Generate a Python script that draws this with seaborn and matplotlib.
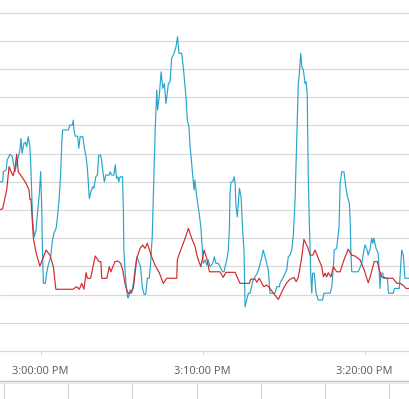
import numpy as np
import pandas as pd
import matplotlib
matplotlib.use('Agg')
import matplotlib.pyplot as plt
import matplotlib.dates as mdates
from matplotlib.lines import Line2D
import seaborn as sns

# seconds relative to 3:00:00 PM, values in chart units (one gridline = 10)
blue_secs = [-151, -141, -138, -128, -124, -114, -105, -101, -95, -89, -83, -77, -73, -69, -62, -56, -52, -46, -40,
             -36, -33, -30, -24, -17, -13, -5, 0, 4, 6, 10, 17, 22, 28, 37, 43, 49, 57, 61, 68, 74, 78, 81, 102, 108,
             117, 121, 123, 128, 137, 141, 146, 156, 161, 168, 173, 180, 186, 193, 197, 204, 210, 215, 222, 226, 232,
             236, 241, 254, 257, 263, 271, 276, 281, 286, 289, 294, 303, 306, 308, 313, 316, 322, 324, 331, 337, 343,
             349, 356, 361, 370, 376, 383, 389, 395, 402, 407, 413, 417, 421, 424, 430, 433, 439, 446, 452, 458, 464,
             473, 479, 485, 494, 501, 507, 512, 522, 528, 538, 543, 549, 553, 559, 565, 568, 571, 578, 586, 593, 599,
             602, 609, 615, 621, 627, 637, 643, 649, 658, 664, 674, 679, 683, 689, 695, 699, 701, 705, 711, 716, 720,
             723, 728, 732, 736, 742, 748, 753, 757, 763, 769, 775, 781, 787, 794, 802, 810, 819, 824, 831, 837, 843,
             849, 868, 874, 884, 886, 899, 911, 917, 923, 930, 936, 942, 948, 954, 958, 963, 967, 973, 979, 983, 987,
             991, 995, 1000, 1004, 1007, 1013, 1020, 1028, 1044, 1049, 1072, 1078, 1084, 1087, 1096, 1105, 1109, 1115,
             1123, 1130, 1136, 1143, 1146, 1149, 1152, 1176, 1189, 1195, 1201, 1207, 1213, 1220, 1226, 1230, 1234,
             1242, 1250, 1254, 1257, 1259, 1267, 1269, 1284, 1288, 1306, 1310, 1328, 1333, 1337, 1343, 1349, 1368]
blue_vals = [60.0, 60.0, 63.6, 64.2, 67.7, 69.8, 68.9, 66.6, 63.6, 66.6, 68.9, 71.3, 75.4, 70.1, 73.7, 74.0, 72.4,
             76.0, 72.4, 64.2, 55.9, 46.5, 40.5, 42.9, 47.6, 55.9, 63.6, 50.0, 37.6, 24.0, 24.0, 27.6, 30.5, 33.4,
             38.8, 41.7, 43.5, 46.5, 53.5, 63.0, 73.7, 78.4, 78.4, 80.1, 80.1, 81.9, 78.4, 76.2, 76.2, 71.9, 76.0,
             76.0, 72.4, 68.9, 64.8, 54.1, 56.5, 58.3, 57.7, 61.8, 62.4, 69.5, 69.5, 67.1, 62.4, 60.0, 62.4, 62.4,
             63.6, 62.4, 62.4, 66.0, 61.2, 61.8, 60.0, 61.8, 61.8, 51.2, 35.8, 27.6, 24.0, 19.1, 18.8, 21.6, 20.5,
             24.0, 28.7, 33.4, 32.3, 29.9, 22.8, 20.0, 20.2, 25.8, 25.8, 31.1, 40.5, 54.7, 68.9, 78.4, 92.6, 85.5,
             90.2, 99.0, 93.2, 94.9, 87.8, 94.9, 95.5, 103.8, 105.6, 107.9, 111.5, 105.6, 105.6, 100.8, 90.2, 81.9,
             79.5, 73.0, 66.6, 60.6, 57.1, 60.6, 54.7, 49.4, 44.1, 35.8, 31.1, 32.3, 30.5, 32.3, 29.9, 31.1, 33.4,
             31.1, 31.1, 29.9, 28.1, 28.1, 29.9, 32.3, 35.8, 44.1, 55.9, 60.0, 60.0, 61.8, 59.5, 51.8, 47.6, 52.4,
             57.7, 54.7, 42.9, 35.8, 15.7, 18.1, 20.5, 20.5, 22.8, 25.2, 26.3, 27.6, 29.9, 33.4, 35.8, 33.4, 31.1,
             28.7, 20.5, 20.5, 22.8, 22.8, 24.0, 26.3, 28.7, 33.4, 34.0, 35.8, 41.7, 53.5, 74.8, 94.9, 98.5, 105.6,
             100.8, 99.6, 94.9, 95.5, 91.4, 61.3, 45.3, 27.6, 20.5, 27.6, 27.6, 20.5, 18.1, 18.1, 20.5, 20.5, 22.8,
             29.9, 35.8, 36.4, 44.1, 59.5, 63.6, 63.6, 58.3, 54.7, 52.4, 46.5, 34.6, 28.1, 28.1, 31.1, 34.6, 37.6,
             36.4, 34.0, 36.4, 40.0, 38.2, 40.0, 36.4, 34.6, 27.6, 22.2, 27.6, 27.6, 25.8, 25.8, 20.5, 20.5, 22.2,
             22.2, 29.9, 35.8, 34.0, 25.8, 25.8]

red_secs = [-151, -141, -126, -117, -110, -102, -95, -89, -83, -70, -54, -43, -40, -36, -27, -17, -3, 20, 34, 47, 56,
            119, 133, 143, 152, 160, 168, 173, 185, 202, 216, 223, 226, 245, 254, 260, 275, 287, 296, 304, 312, 321,
            328, 343, 356, 368, 378, 386, 395, 411, 423, 439, 454, 467, 504, 506, 513, 535, 547, 559, 572, 580, 593,
            605, 615, 625, 664, 676, 686, 720, 738, 773, 778, 794, 800, 810, 819, 827, 837, 849, 862, 880, 899, 911,
            923, 938, 946, 954, 967, 975, 988, 998, 1008, 1016, 1028, 1041, 1047, 1053, 1059, 1065, 1075, 1084, 1096,
            1109, 1123, 1139, 1152, 1164, 1183, 1198, 1213, 1222, 1235, 1247, 1254, 1263, 1284, 1304, 1319, 1331,
            1341, 1353, 1368]
red_vals = [50.2, 50.4, 57.1, 65.4, 63.6, 62.2, 64.9, 69.8, 63.6, 61.8, 59.5, 57.1, 53.8, 53.8, 40.0, 34.8, 30.1,
            35.8, 34.0, 29.9, 21.9, 21.9, 22.8, 21.9, 24.0, 21.9, 27.8, 25.8, 25.8, 33.7, 31.7, 31.7, 25.8, 25.8,
            29.9, 28.1, 31.7, 31.9, 31.1, 28.7, 24.0, 21.0, 20.2, 22.2, 32.9, 36.4, 37.6, 36.4, 38.2, 33.4, 30.5,
            27.8, 24.0, 25.8, 25.8, 32.3, 34.4, 40.0, 43.5, 40.0, 37.0, 33.4, 29.9, 35.8, 32.9, 28.1, 28.1, 26.1,
            27.9, 27.9, 24.0, 24.0, 25.5, 25.5, 24.4, 25.8, 24.0, 22.8, 23.4, 22.2, 20.5, 18.3, 22.2, 24.2, 25.4,
            26.1, 24.6, 26.1, 33.4, 39.6, 37.0, 34.0, 34.0, 35.8, 32.9, 29.9, 26.3, 27.6, 26.3, 27.8, 26.3, 29.9,
            28.1, 28.1, 32.3, 36.1, 34.0, 33.7, 32.3, 28.7, 24.2, 26.9, 31.7, 31.7, 28.7, 26.3, 25.8, 25.8, 24.0,
            24.0, 23.4, 22.2, 22.2]

start = pd.Timestamp('2020-01-01 15:00:00')
df = pd.concat([
    pd.DataFrame({'time': start + pd.to_timedelta(blue_secs, unit='s'), 'value': blue_vals, 'series': 'A'}),
    pd.DataFrame({'time': start + pd.to_timedelta(red_secs, unit='s'), 'value': red_vals, 'series': 'B'}),
])

sns.set_style('white')
plt.rcParams['font.family'] = ['Open Sans', 'DejaVu Sans']

fig = plt.figure(figsize=(4.09, 3.99), dpi=100, facecolor='white')
ax = fig.add_axes([0, 1 - 351 / 399, 1, 351 / 399])

sns.lineplot(data=df, x='time', y='value', hue='series', estimator=None, sort=False,
             palette={'A': '#29a5cc', 'B': '#cf2a2e'}, linewidth=0.85, legend=False, ax=ax)

ax.set_xlim(start + pd.Timedelta(seconds=-150.7), start + pd.Timedelta(seconds=1364))
ax.set_ylim(0, 124.5)
ax.set_yticks(np.arange(10, 121, 10))
ax.yaxis.grid(True, color='#d9d9d9', linewidth=0.9)
ax.set_axisbelow(True)
ax.tick_params(axis='y', left=False, labelleft=False)

ax.xaxis.set_major_locator(mdates.MinuteLocator(byminute=[0, 10, 20]))
ax.xaxis.set_major_formatter(mdates.DateFormatter('%-I:%M:%S %p'))
ax.tick_params(axis='x', bottom=True, length=3, width=0.7, color='#d9d9d9',
               labelsize=7.9, labelcolor='#595959', pad=8)
ax.set_xlabel('')
ax.set_ylabel('')

for side in ['top', 'left', 'right']:
    ax.spines[side].set_visible(False)
ax.spines['bottom'].set_color('#d9d9d9')
ax.spines['bottom'].set_linewidth(0.9)

# chart frame bottom and sheet cells below it
fig.add_artist(Line2D([0, 1], [1 - 380.5 / 399] * 2, color='#bfbfbf', linewidth=1.0))
fig.add_artist(Line2D([0, 1], [1 - 383 / 399] * 2, color='#e3e3e3', linewidth=0.8))
for cx in [4.3, 68.3, 132.3, 196.7, 260.7, 324.5, 389]:
    fig.add_artist(Line2D([cx / 409] * 2, [0, 1 - 384 / 399], color='#d4d4d4', linewidth=0.8))

fig.savefig('out.png', dpi=100, facecolor='white')
